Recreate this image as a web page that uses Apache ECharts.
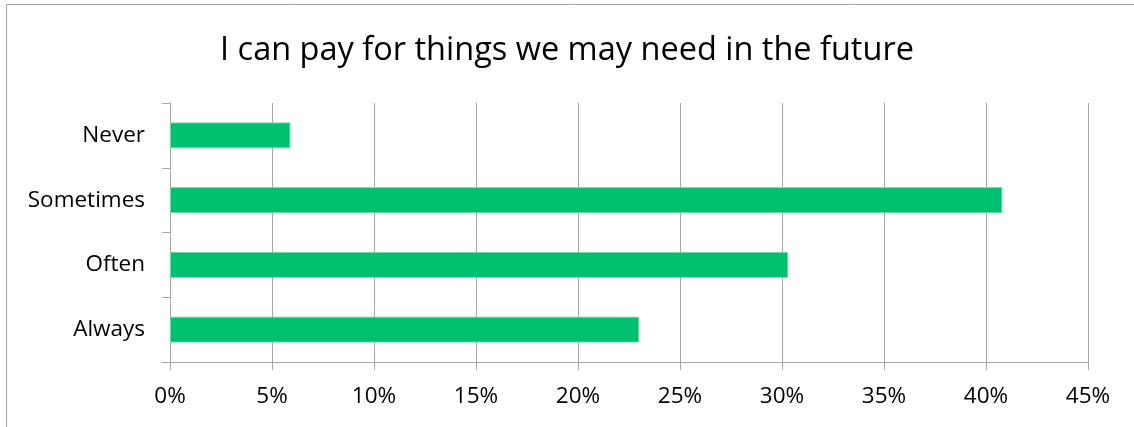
<!DOCTYPE html>
<html>
<head>
<meta charset="utf-8">
<script src="https://cdn.jsdelivr.net/npm/echarts@6/dist/echarts.min.js"></script>
<style>
  html, body { margin: 0; padding: 0; background: #fff; }
  #chart { width: 1134px; height: 427px; }
</style>
</head>
<body>
<div id="chart"></div>
<script>
// Survey responses, listed bottom to top on the category axis
const categories = ['Always', 'Often', 'Sometimes', 'Never'];
const shares = [23.0, 30.3, 40.8, 5.9];
const titleText = 'I can pay for things we may need in the future';
const axisMin = 0;
const axisMax = 45;
const axisStep = 5;

const gridColor = '#a6a6a6';
const textFont = "'Open Sans', 'Noto Sans', sans-serif";

const chart = echarts.init(document.getElementById('chart'), null, { renderer: 'canvas' });

chart.setOption({
  animation: false,
  backgroundColor: '#fff',
  title: {
    text: titleText,
    left: 'center',
    top: 29,
    textStyle: { fontFamily: textFont, fontSize: 32.5, fontWeight: 'normal', color: '#000' }
  },
  graphic: [{
    type: 'rect',
    shape: { x: 6.5, y: 4.5, width: 1200, height: 500 },
    style: { fill: 'none', stroke: '#a6a6a6', lineWidth: 1 },
    silent: true
  }],
  grid: { left: 170, right: 46, top: 103, bottom: 65, containLabel: false },
  xAxis: {
    type: 'value',
    min: axisMin,
    max: axisMax,
    interval: axisStep,
    axisLine: { show: true, lineStyle: { color: gridColor, width: 1 } },
    axisTick: { show: true, length: 8, lineStyle: { color: gridColor } },
    splitLine: { show: true, lineStyle: { color: gridColor, width: 1 } },
    axisLabel: {
      formatter: '{value}%',
      margin: 23,
      color: '#000',
      fontFamily: textFont,
      fontSize: 22.5
    }
  },
  yAxis: {
    type: 'category',
    data: categories,
    axisLine: { show: true, lineStyle: { color: gridColor, width: 1 } },
    axisTick: { show: true, length: 8, alignWithLabel: false, lineStyle: { color: gridColor } },
    splitLine: { show: false },
    axisLabel: {
      margin: 25,
      color: '#000',
      fontFamily: textFont,
      fontSize: 22.5
    }
  },
  series: [{
    type: 'bar',
    data: shares,
    barCategoryGap: '60%',
    itemStyle: { color: '#00bf6f', borderColor: '#6ad8a8', borderWidth: 1 }
  }]
});
</script>
</body>
</html>
